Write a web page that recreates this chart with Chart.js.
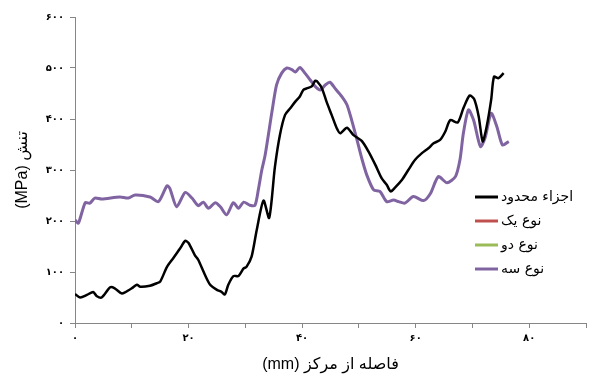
<!DOCTYPE html>
<html>
<head>
<meta charset="utf-8">
<script src="https://cdn.jsdelivr.net/npm/chart.js"></script>
<style>
  body { margin: 0; background: #fff; }
</style>
</head>
<body>
<canvas id="stressChart" width="592" height="378"></canvas>
<script>
// distance from centre (mm) and stress (MPa)
const feDist = [0, 0.9, 2.1, 3.2, 3.8, 4.7, 6.2, 7.0, 8.2, 8.8, 10.0, 10.9, 11.5, 13.2, 14.4, 15.0, 16.2, 17.3, 18.5, 19.4,
  20.0, 21.1, 21.7, 22.9, 23.8, 25.0, 25.8, 26.4, 27.0, 27.9, 28.8, 29.7, 30.2, 31.1, 32.0, 33.2, 34.2, 35.2, 36.1, 37.0,
  37.9, 38.8, 39.6, 40.2, 40.8, 41.7, 42.3, 42.7, 43.5, 44.3, 45.2, 46.1, 46.7, 47.9, 49.0, 50.5, 51.7, 52.9, 54.0, 54.9,
  55.6, 56.4, 57.6, 58.7, 59.9, 61.1, 62.3, 63.1, 64.3, 65.2, 66.1, 67.4, 68.4, 69.5, 70.3, 71.1, 71.8, 72.5, 73.3, 73.8,
  74.6, 75.5];
const feStress = [57, 50, 55, 61, 53, 50, 70, 68, 58, 60, 68, 75, 71, 73, 78, 81, 110, 127, 146, 161,
  157, 133, 124, 94, 75, 65, 61, 56, 75, 92, 92, 107, 110, 130, 182, 240, 206, 305, 369, 408,
  421, 434, 444, 457, 460, 464, 475, 473, 460, 434, 408, 382, 372, 383, 369, 357, 336, 310, 284, 271,
  258, 266, 281, 300, 320, 333, 343, 352, 359, 375, 398, 393, 421, 446, 439, 405, 356, 385, 438, 483,
  480, 490];

const type3Dist = [0, 0.6, 1.8, 2.6, 3.5, 4.7, 7.9, 9.4, 10.6, 13.2, 14.7, 16.2, 16.7, 17.9, 19.4, 20.6, 21.7, 22.6, 23.5, 24.7,
  25.6, 26.7, 27.9, 28.8, 29.7, 30.8, 31.7, 32.3, 32.9, 33.5, 34.7, 35.5, 36.4, 37.3, 38.2, 38.8, 39.6, 40.5, 41.4, 42.3,
  43.2, 44.1, 44.9, 45.8, 47.0, 47.9, 48.8, 49.6, 50.5, 51.4, 52.6, 53.7, 54.9, 56.1, 57.0, 58.1, 59.6, 61.4, 62.6, 64.0,
  65.5, 67.0, 67.8, 68.4, 69.3, 70.2, 71.4, 72.2, 73.3, 74.3, 75.3, 76.4];
const type3Stress = [202, 196, 236, 235, 245, 243, 247, 245, 251, 247, 238, 269, 264, 228, 256, 245, 230, 237, 225, 236,
  228, 212, 236, 225, 237, 231, 231, 262, 300, 330, 415, 467, 490, 500, 497, 492, 501, 490, 477, 464,
  457, 467, 472, 460, 444, 428, 395, 362, 323, 290, 261, 258, 238, 241, 238, 235, 248, 240, 254, 287,
  275, 287, 320, 372, 418, 398, 346, 362, 411, 385, 349, 356];

// no readings for types one and two
const type1Dist = [];
const type1Stress = [];
const type2Dist = [];
const type2Stress = [];

const seriesNames = ['اجزاء محدود', 'نوع یک', 'نوع دو', 'نوع سه'];
const xTickValues = [0, 20, 40, 60, 80];
const xTickLabels = ['۰', '۲۰', '۴۰', '۶۰', '۸۰'];
const yTickValues = [0, 100, 200, 300, 400, 500, 600];
const yTickLabels = ['۰', '۱۰۰', '۲۰۰', '۳۰۰', '۴۰۰', '۵۰۰', '۶۰۰'];

function pairs(xs, ys) {
  return xs.map((x, i) => ({ x: x, y: ys[i] }));
}

const axisGrey = '#868686';
const persianFont = 'DejaVu Sans';

// legend sits inside the plot, lower right
const insideLegend = {
  id: 'insideLegend',
  afterDraw(chart) {
    const ctx = chart.ctx;
    ctx.save();
    ctx.font = '14px "' + persianFont + '"';
    ctx.textAlign = 'left';
    ctx.textBaseline = 'middle';
    chart.data.datasets.forEach((ds, i) => {
      const y = 197 + i * 24;
      ctx.strokeStyle = ds.borderColor;
      ctx.lineWidth = 3;
      ctx.beginPath();
      ctx.moveTo(475, y);
      ctx.lineTo(498, y);
      ctx.stroke();
      ctx.fillStyle = '#000';
      ctx.fillText(ds.label, 501, y);
    });
    ctx.restore();
  }
};

new Chart(document.getElementById('stressChart').getContext('2d'), {
  type: 'line',
  data: {
    datasets: [
      { label: seriesNames[0], data: pairs(feDist, feStress), borderColor: '#000000', borderWidth: 2.5 },
      { label: seriesNames[1], data: pairs(type1Dist, type1Stress), borderColor: '#C0504D', borderWidth: 3 },
      { label: seriesNames[2], data: pairs(type2Dist, type2Stress), borderColor: '#9BBB59', borderWidth: 3 },
      { label: seriesNames[3], data: pairs(type3Dist, type3Stress), borderColor: '#8064A2', borderWidth: 3 }
    ]
  },
  options: {
    responsive: false,
    animation: false,
    devicePixelRatio: 1,
    layout: { padding: { left: 0, right: 6, top: 17, bottom: 0 } },
    elements: {
      point: { radius: 0 },
      line: { tension: 0.25, fill: false }
    },
    plugins: {
      legend: { display: false },
      tooltip: { enabled: false }
    },
    scales: {
      x: {
        type: 'linear',
        min: 0,
        max: 90,
        afterFit(scale) { scale.height = 55; },
        border: { color: axisGrey, width: 1 },
        grid: { display: true, drawOnChartArea: false, drawTicks: true, tickLength: 5, color: axisGrey },
        ticks: {
          stepSize: 10,
          maxRotation: 0,
          autoSkip: false,
          padding: 4,
          color: '#000',
          font: { family: persianFont, size: 10, weight: 'bold' },
          callback(v) {
            const i = xTickValues.indexOf(v);
            return i >= 0 ? xTickLabels[i] : '';
          }
        },
        title: {
          display: true,
          text: '(mm) فاصله از مرکز',
          color: '#000',
          font: { family: 'Liberation Sans, ' + persianFont, size: 16 },
          padding: { top: 0, bottom: 4 }
        }
      },
      y: {
        min: 0,
        max: 600,
        afterFit(scale) { scale.width = 75; },
        border: { color: axisGrey, width: 1 },
        grid: { display: true, drawOnChartArea: false, drawTicks: true, tickLength: 5, color: axisGrey },
        ticks: {
          stepSize: 100,
          padding: 6,
          color: '#000',
          font: { family: persianFont, size: 10, weight: 'bold' },
          callback(v) {
            const i = yTickValues.indexOf(v);
            return i >= 0 ? yTickLabels[i] : '';
          }
        },
        title: {
          display: true,
          text: '(MPa) تنش',
          color: '#000',
          font: { family: 'Liberation Sans, ' + persianFont, size: 16 },
          padding: { top: 13, bottom: 0 }
        }
      }
    }
  },
  plugins: [insideLegend]
});
</script>
</body>
</html>
